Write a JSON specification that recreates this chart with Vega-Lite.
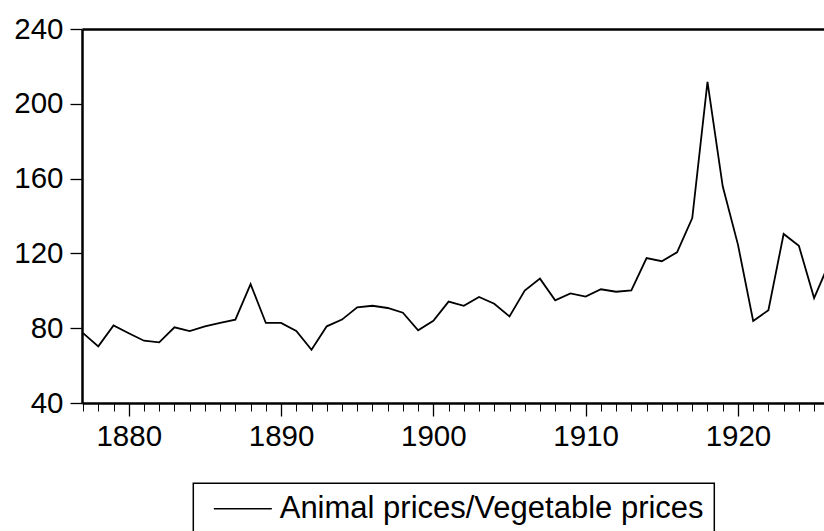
{
  "$schema": "https://vega.github.io/schema/vega-lite/v6.json",
  "autosize": {"type": "none"},
  "padding": {"left": 82, "top": 29, "right": 0, "bottom": 128},
  "width": 742,
  "height": 374,
  "background": "white",
  "config": {
    "view": {"stroke": null},
    "axis": {"grid": false, "title": null, "domainColor": "black", "tickColor": "black", "labelColor": "black", "labelFont": "Liberation Sans", "labelFontSize": 29.5}
  },
  "data": {"values": [
    {"year": 1877, "value": 77.4, "series": "Animal prices/Vegetable prices"},
    {"year": 1878, "value": 70.3, "series": "Animal prices/Vegetable prices"},
    {"year": 1879, "value": 81.5, "series": "Animal prices/Vegetable prices"},
    {"year": 1880, "value": 77.3, "series": "Animal prices/Vegetable prices"},
    {"year": 1881, "value": 73.3, "series": "Animal prices/Vegetable prices"},
    {"year": 1882, "value": 72.4, "series": "Animal prices/Vegetable prices"},
    {"year": 1883, "value": 80.5, "series": "Animal prices/Vegetable prices"},
    {"year": 1884, "value": 78.5, "series": "Animal prices/Vegetable prices"},
    {"year": 1885, "value": 81.0, "series": "Animal prices/Vegetable prices"},
    {"year": 1886, "value": 82.8, "series": "Animal prices/Vegetable prices"},
    {"year": 1887, "value": 84.6, "series": "Animal prices/Vegetable prices"},
    {"year": 1888, "value": 103.6, "series": "Animal prices/Vegetable prices"},
    {"year": 1889, "value": 82.8, "series": "Animal prices/Vegetable prices"},
    {"year": 1890, "value": 82.8, "series": "Animal prices/Vegetable prices"},
    {"year": 1891, "value": 78.5, "series": "Animal prices/Vegetable prices"},
    {"year": 1892, "value": 68.5, "series": "Animal prices/Vegetable prices"},
    {"year": 1893, "value": 81.0, "series": "Animal prices/Vegetable prices"},
    {"year": 1894, "value": 84.6, "series": "Animal prices/Vegetable prices"},
    {"year": 1895, "value": 91.2, "series": "Animal prices/Vegetable prices"},
    {"year": 1896, "value": 92.0, "series": "Animal prices/Vegetable prices"},
    {"year": 1897, "value": 90.8, "series": "Animal prices/Vegetable prices"},
    {"year": 1898, "value": 88.3, "series": "Animal prices/Vegetable prices"},
    {"year": 1899, "value": 78.9, "series": "Animal prices/Vegetable prices"},
    {"year": 1900, "value": 84.0, "series": "Animal prices/Vegetable prices"},
    {"year": 1901, "value": 94.2, "series": "Animal prices/Vegetable prices"},
    {"year": 1902, "value": 92.0, "series": "Animal prices/Vegetable prices"},
    {"year": 1903, "value": 96.7, "series": "Animal prices/Vegetable prices"},
    {"year": 1904, "value": 93.1, "series": "Animal prices/Vegetable prices"},
    {"year": 1905, "value": 86.3, "series": "Animal prices/Vegetable prices"},
    {"year": 1906, "value": 100.1, "series": "Animal prices/Vegetable prices"},
    {"year": 1907, "value": 106.5, "series": "Animal prices/Vegetable prices"},
    {"year": 1908, "value": 94.9, "series": "Animal prices/Vegetable prices"},
    {"year": 1909, "value": 98.6, "series": "Animal prices/Vegetable prices"},
    {"year": 1910, "value": 96.9, "series": "Animal prices/Vegetable prices"},
    {"year": 1911, "value": 100.8, "series": "Animal prices/Vegetable prices"},
    {"year": 1912, "value": 99.5, "series": "Animal prices/Vegetable prices"},
    {"year": 1913, "value": 100.2, "series": "Animal prices/Vegetable prices"},
    {"year": 1914, "value": 117.5, "series": "Animal prices/Vegetable prices"},
    {"year": 1915, "value": 115.8, "series": "Animal prices/Vegetable prices"},
    {"year": 1916, "value": 120.6, "series": "Animal prices/Vegetable prices"},
    {"year": 1917, "value": 138.9, "series": "Animal prices/Vegetable prices"},
    {"year": 1918, "value": 211.7, "series": "Animal prices/Vegetable prices"},
    {"year": 1919, "value": 155.9, "series": "Animal prices/Vegetable prices"},
    {"year": 1920, "value": 124.7, "series": "Animal prices/Vegetable prices"},
    {"year": 1921, "value": 83.9, "series": "Animal prices/Vegetable prices"},
    {"year": 1922, "value": 89.6, "series": "Animal prices/Vegetable prices"},
    {"year": 1923, "value": 130.4, "series": "Animal prices/Vegetable prices"},
    {"year": 1924, "value": 124.1, "series": "Animal prices/Vegetable prices"},
    {"year": 1925, "value": 96.1, "series": "Animal prices/Vegetable prices"},
    {"year": 1926, "value": 115.0, "series": "Animal prices/Vegetable prices"}
  ]},
  "resolve": {"axis": {"x": "independent"}},
  "layer": [
    {
      "mark": {"type": "point", "opacity": 0},
      "encoding": {
        "x": {"field": "year", "type": "quantitative", "scale": {"domain": [1876.93, 1925.65], "nice": false, "zero": false},
          "axis": {"orient": "bottom", "values": [1877,1878,1879,1880,1881,1882,1883,1884,1885,1886,1887,1888,1889,1890,1891,1892,1893,1894,1895,1896,1897,1898,1899,1900,1901,1902,1903,1904,1905,1906,1907,1908,1909,1910,1911,1912,1913,1914,1915,1916,1917,1918,1919,1920,1921,1922,1923,1924,1925], "labels": false, "domain": false, "tickSize": 8, "tickWidth": 1}}
      }
    },
    {
      "mark": {"type": "point", "opacity": 0},
      "encoding": {
        "x": {"field": "year", "type": "quantitative",
          "axis": {"orient": "top", "labels": false, "ticks": false, "domain": true, "domainWidth": 2.5}}
      }
    },
    {
      "mark": {"type": "line", "clip": true, "strokeWidth": 1.8},
      "encoding": {
        "x": {"field": "year", "type": "quantitative",
          "axis": {"orient": "bottom", "values": [1880, 1890, 1900, 1910, 1920], "format": "d", "tickSize": 13, "tickWidth": 1.3, "labelPadding": 6, "domainWidth": 2.5, "labelFlush": false}},
        "y": {"field": "value", "type": "quantitative", "scale": {"domain": [40, 240], "nice": false, "zero": false},
          "axis": {"values": [40, 80, 120, 160, 200, 240], "tickSize": 12, "tickWidth": 1.3, "labelPadding": 7, "domainWidth": 2.5}},
        "color": {"field": "series", "type": "nominal", "scale": {"range": ["black"]},
          "legend": {"title": null, "orient": "none", "legendX": 111.3, "legendY": 454.3, "strokeColor": "black", "padding": 10, "symbolType": "M-0.514,0H5.486", "symbolSize": 373.8, "symbolStrokeWidth": 1.5, "symbolStrokeColor": "black", "symbolFillColor": "transparent", "labelFont": "Liberation Sans", "labelFontSize": 31, "labelColor": "black", "labelOffset": 45.4, "labelLimit": 1000,
            "encode": {"legend": {"update": {"strokeWidth": {"value": 1.5}}}}}}
      }
    }
  ]
}
